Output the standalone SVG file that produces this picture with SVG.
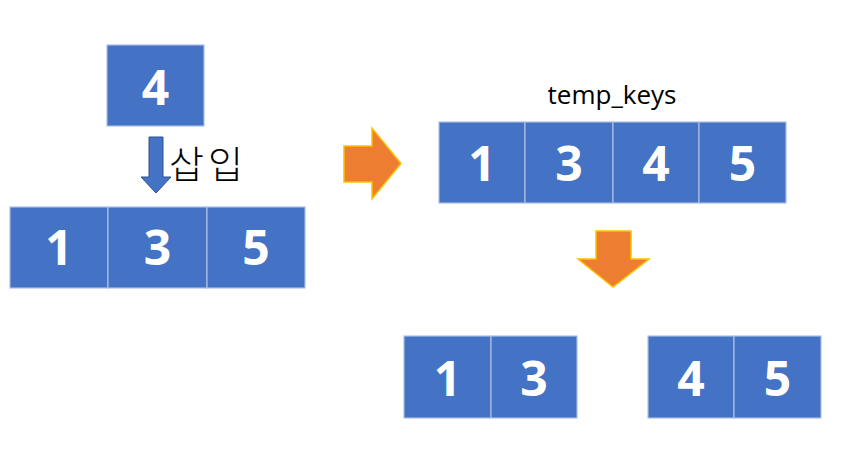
<svg xmlns="http://www.w3.org/2000/svg" width="844" height="452" viewBox="0 0 844 452">
<style>
.box{fill:#4472C4;stroke:#A9BEE4;stroke-width:1.2}
.num{fill:#fff;font-family:"Open Sans","Noto Sans",sans-serif;font-weight:bold;font-size:48px;text-anchor:middle}
.lbl{fill:#000;font-family:"Open Sans","Noto Sans","Noto Sans CJK KR",sans-serif}
.oarrow{fill:#ED7D31;stroke:#FFC000;stroke-width:1.5}
</style>
<rect width="844" height="452" fill="#fff"/>
<g id="node-new4">
<rect class="box" x="107" y="45" width="97" height="81"/>
<text class="num" x="155.5" y="105">4</text>
</g>
<g id="row-original">
<rect class="box" x="10" y="207" width="98" height="81"/>
<rect class="box" x="108" y="207" width="99" height="81"/>
<rect class="box" x="207" y="207" width="98" height="81"/>
<text class="num" x="59" y="265">1</text>
<text class="num" x="157.5" y="265">3</text>
<text class="num" x="256" y="265">5</text>
</g>
<g id="label-insert">
<text x="169" y="178" font-size="38" font-weight="300" letter-spacing="4" fill="#000" font-family="'Noto Sans CJK KR',sans-serif">삽입</text>
</g>
<g id="temp-keys">
<text class="lbl" x="612" y="104" font-size="26" text-anchor="middle">temp_keys</text>
<rect class="box" x="439" y="122" width="86" height="81"/>
<rect class="box" x="525" y="122" width="88" height="81"/>
<rect class="box" x="613" y="122" width="86" height="81"/>
<rect class="box" x="699" y="122" width="87" height="81"/>
<text class="num" x="482" y="181">1</text>
<text class="num" x="569" y="181">3</text>
<text class="num" x="656" y="181">4</text>
<text class="num" x="742.5" y="181">5</text>
</g>
<g id="split-left">
<rect class="box" x="404" y="336" width="87" height="82"/>
<rect class="box" x="491" y="336" width="86" height="82"/>
<text class="num" x="447.5" y="396">1</text>
<text class="num" x="534" y="396">3</text>
</g>
<g id="split-right">
<rect class="box" x="648" y="336" width="86" height="82"/>
<rect class="box" x="734" y="336" width="87" height="82"/>
<text class="num" x="691" y="396">4</text>
<text class="num" x="777.5" y="396">5</text>
</g>
<g id="connectors">
<polygon points="149,137 163,137 163,177 171,177 156,193 141,177 149,177" fill="#4472C4" stroke="#2F528F" stroke-width="1"/>
<polygon class="oarrow" points="344,146 372,146 372,128 401,163.5 372,199 372,182 344,182"/>
<polygon class="oarrow" points="596,231 631,231 631,259 649,259 613,287 578,259 596,259"/>
</g>
</svg>
